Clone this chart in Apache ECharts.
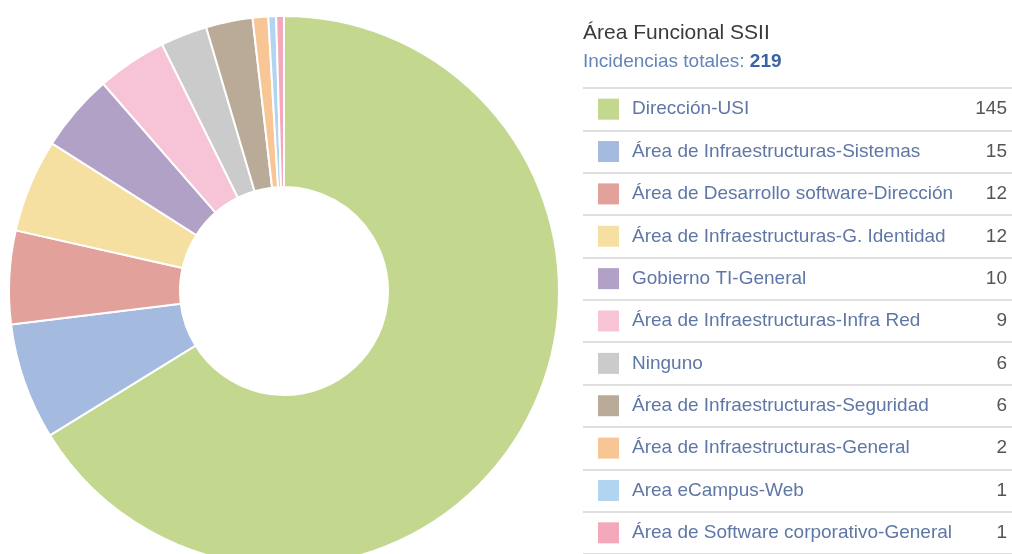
<!DOCTYPE html>
<html>
<head>
<meta charset="utf-8">
<script src="https://cdn.jsdelivr.net/npm/echarts@6/dist/echarts.min.js"></script>
<style>
  html, body { margin: 0; padding: 0; background: #fff; }
</style>
</head>
<body>
<div id="DonutChart" style="width: 1012px; height: 554px"></div>
<script>
const categories = [
  "Dirección-USI",
  "Área de Infraestructuras-Sistemas",
  "Área de Desarrollo software-Dirección",
  "Área de Infraestructuras-G. Identidad",
  "Gobierno TI-General",
  "Área de Infraestructuras-Infra Red",
  "Ninguno",
  "Área de Infraestructuras-Seguridad",
  "Área de Infraestructuras-General",
  "Area eCampus-Web",
  "Área de Software corporativo-General",
];
const values = [145, 15, 12, 12, 10, 9, 6, 6, 2, 1, 1];
const colors = [
  "#c3d78e", "#a4badf", "#e3a19c", "#f5e0a2", "#b2a1c6", "#f6c4d6",
  "#cbcbcb", "#baab98", "#f8c694", "#b1d4f1", "#f3a9ba",
];
const titleText = "Área Funcional SSII";
const totalLabel = "Incidencias totales: ";

const total = values.reduce((a, b) => a + b, 0);

// rich styles for the table rows: one square style per colour
const rich = {
  name: { width: 322, padding: [0, 0, 0, 13], fontSize: 19, color: "#5f77a6" },
  val: { width: 53, align: "right", fontSize: 19, color: "#555" },
};
colors.forEach((c, i) => {
  rich["s" + i] = { width: 21, height: 21, backgroundColor: c };
});

const chart = echarts.init(document.getElementById("DonutChart"));
const option = {
  animation: false,
  color: colors,
  title: {
    left: 578,
    top: 18,
    text: titleText,
    subtext: "{a|" + totalLabel + "}{b|" + total + "}",
    itemGap: 8,
    textStyle: {
      fontFamily: "Liberation Sans",
      fontSize: 21,
      fontWeight: "normal",
      color: "#3a3a3a",
    },
    subtextStyle: {
      fontFamily: "Liberation Sans",
      rich: {
        a: { fontSize: 19, color: "#6485b8" },
        b: { fontSize: 19, color: "#3a62a6", fontWeight: "bold" },
      },
    },
  },
  grid: {
    left: 583,
    right: 0,
    top: 88,
    height: 466,
  },
  xAxis: {
    type: "value",
    show: false,
  },
  yAxis: {
    type: "category",
    inverse: true,
    data: categories,
    axisLine: { show: false },
    axisTick: { show: false },
    splitLine: {
      show: true,
      lineStyle: { color: "#d4d4d4", width: 1.5 },
    },
    axisLabel: {
      inside: true,
      margin: 15,
      fontFamily: "Liberation Sans",
      formatter: function (value, idx) {
        return "{s" + idx + "|}{name|" + value + "}{val|" + values[idx] + "}";
      },
      rich: rich,
    },
  },
  series: [
    {
      type: "pie",
      center: [284, 291],
      radius: [104, 275],
      startAngle: 90,
      clockwise: true,
      label: { show: false },
      labelLine: { show: false },
      itemStyle: {
        borderColor: "#fff",
        borderWidth: 2,
      },
      data: categories.map((name, i) => ({ name: name, value: values[i] })),
    },
  ],
};
chart.setOption(option, true);
window.onresize = () => {
  chart.resize();
};
</script>
</body>
</html>
